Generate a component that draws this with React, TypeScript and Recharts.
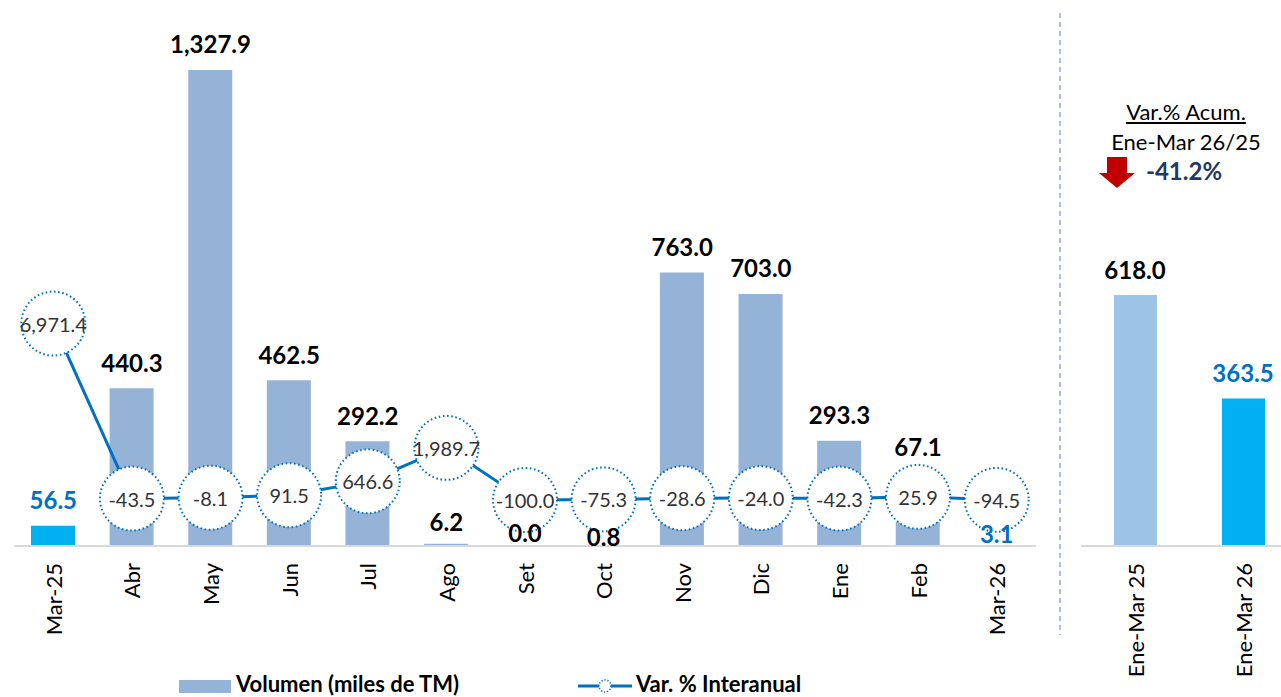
import { Bar, Cell, ComposedChart, Line, XAxis, YAxis } from "recharts";

const months = ["Mar-25", "Abr", "May", "Jun", "Jul", "Ago", "Set", "Oct", "Nov", "Dic", "Ene", "Feb", "Mar-26"];
const volume = [56.5, 440.3, 1327.9, 462.5, 292.2, 6.2, 0.0, 0.8, 763.0, 703.0, 293.3, 67.1, 3.1];
const yoyChange = [6971.4, -43.5, -8.1, 91.5, 646.6, 1989.7, -100.0, -75.3, -28.6, -24.0, -42.3, 25.9, -94.5];

const ytdPeriods = ["Ene-Mar 25", "Ene-Mar 26"];
const ytdVolume = [618.0, 363.5];
const ytdChange = -41.2;

const FONT = "Lato, 'Open Sans', sans-serif";
const BAR = "#95B3D7";
const HIGHLIGHT = "#00B0F0";
const LINE = "#0070C0";

// Excel nudged some labels to dodge the circles
const monthLabelLift: Record<number, number> = { 5: 22, 6: 14, 7: 9, 11: 75, 12: 11 };

const fmt = (v: number) =>
  v.toLocaleString("en-US", { minimumFractionDigits: 1, maximumFractionDigits: 1 });

const monthly = months.map((m, i) => ({ month: m, volume: volume[i], yoy: yoyChange[i] }));
const ytd = ytdPeriods.map((p, i) => ({ period: p, volume: ytdVolume[i] }));

function RotatedTick({ x, y, payload }: any) {
  return (
    <text
      x={x}
      y={y}
      transform={`rotate(-90, ${x}, ${y})`}
      textAnchor="end"
      dominantBaseline="central"
      fontFamily={FONT}
      fontSize={22}
      fill="#000"
    >
      {payload.value}
    </text>
  );
}

// value labels drawn as the "dots" of an invisible line on the bar axis, so they sit on top
function makeValueLabel(highlight: (i: number) => boolean, lifts: Record<number, number>) {
  return function ValueLabel({ cx, cy, value, index }: any) {
    if (cx == null || cy == null) return null;
    const lift = lifts[index] ?? 26;
    return (
      <text
        key={`lbl-${index}`}
        x={cx}
        y={cy - lift}
        textAnchor="middle"
        dominantBaseline="central"
        fontFamily={FONT}
        fontWeight={700}
        fontSize={24}
        fill={highlight(index) ? LINE : "#000"}
      >
        {fmt(value)}
      </text>
    );
  };
}

function BubbleDot({ cx, cy, value, index }: any) {
  if (cx == null || cy == null) return null;
  return (
    <g key={`dot-${index}`}>
      <circle cx={cx} cy={cy} r={32} fill="#fff" stroke={LINE} strokeWidth={2} strokeDasharray="1.6 2.6" />
      <text
        x={cx}
        y={cy}
        textAnchor="middle"
        dominantBaseline="central"
        fontFamily={FONT}
        fontSize={20}
        fill="#333"
      >
        {fmt(value)}
      </text>
    </g>
  );
}

const isEdge = (i: number) => i === 0 || i === months.length - 1;
const MonthLabel = makeValueLabel(isEdge, monthLabelLift);
const YtdLabel = makeValueLabel((i) => i === 1, {});

export default function App() {
  return (
    <div style={{ position: "absolute", left: 0, top: 0, width: 1281, height: 697, overflow: "hidden", background: "#fff" }}>
      <div style={{ position: "absolute", left: 0, top: 0 }}>
        <ComposedChart width={1050} height={697} data={monthly} margin={{ top: 10, right: 14, bottom: 51, left: 14 }}>
          <XAxis
            dataKey="month"
            interval={0}
            height={100}
            tickLine={false}
            tickSize={0}
            tickMargin={17}
            axisLine={{ stroke: "#D9D9D9", strokeWidth: 2 }}
            tick={<RotatedTick />}
          />
          <YAxis yAxisId="vol" hide domain={[0, 1495]} />
          <YAxis yAxisId="pct" hide domain={[-1944, 19539]} orientation="right" />
          <Bar yAxisId="vol" dataKey="volume" barSize={44} isAnimationActive={false}>
            {monthly.map((_, i) => (
              <Cell key={i} fill={isEdge(i) ? HIGHLIGHT : BAR} />
            ))}
          </Bar>
          <Line
            yAxisId="pct"
            dataKey="yoy"
            type="linear"
            stroke={LINE}
            strokeWidth={3}
            dot={<BubbleDot />}
            activeDot={false}
            isAnimationActive={false}
          />
          <Line
            yAxisId="vol"
            dataKey="volume"
            stroke="none"
            dot={<MonthLabel />}
            activeDot={false}
            isAnimationActive={false}
          />
        </ComposedChart>
      </div>

      <svg style={{ position: "absolute", left: 0, top: 0 }} width={1281} height={697}>
        <line x1={1060} y1={13} x2={1060} y2={635} stroke="#8FAADC" strokeWidth={1.5} strokeDasharray="5 4" />
      </svg>

      <div style={{ position: "absolute", left: 1081, top: 0 }}>
        <ComposedChart width={216} height={697} data={ytd} margin={{ top: 10, right: 0, bottom: 51, left: 0 }}>
          <XAxis
            dataKey="period"
            interval={0}
            height={100}
            tickLine={false}
            tickSize={0}
            tickMargin={17}
            axisLine={{ stroke: "#D9D9D9", strokeWidth: 2 }}
            tick={<RotatedTick />}
          />
          <YAxis hide domain={[0, 1320]} />
          <Bar dataKey="volume" barSize={43} isAnimationActive={false}>
            {ytd.map((_, i) => (
              <Cell key={i} fill={i === 0 ? "#9DC3E6" : HIGHLIGHT} />
            ))}
          </Bar>
          <Line dataKey="volume" stroke="none" dot={<YtdLabel />} activeDot={false} isAnimationActive={false} />
        </ComposedChart>
      </div>

      <div style={{ position: "absolute", left: 1086, top: 97, width: 200, textAlign: "center", fontFamily: FONT, fontSize: 22, color: "#000", lineHeight: "30px" }}>
        <div><span style={{ textDecoration: "underline" }}>Var.% Acum.</span></div>
        <div>Ene-Mar 26/25</div>
      </div>
      <svg style={{ position: "absolute", left: 1099, top: 157 }} width={36} height={32}>
        <polygon points="8,0 28,0 28,16 36,16 18,31 0,16 8,16" fill="#C00000" />
      </svg>
      <div style={{ position: "absolute", left: 1146, top: 157, fontFamily: FONT, fontSize: 24, fontWeight: 700, color: "#1F3864", lineHeight: "28px" }}>
        {`${fmt(ytdChange)}%`}
      </div>

      <div style={{ position: "absolute", left: 179, top: 680, width: 52, height: 13, background: BAR }} />
      <div style={{ position: "absolute", left: 236, top: 673, fontFamily: FONT, fontSize: 22, fontWeight: 700, lineHeight: "22px", color: "#000" }}>
        Volumen (miles de TM)
      </div>
      <svg style={{ position: "absolute", left: 578, top: 676 }} width={56} height={20}>
        <line x1={0} y1={10} x2={54} y2={10} stroke={LINE} strokeWidth={3} />
        <circle cx={27} cy={10} r={6} fill="#fff" stroke={LINE} strokeWidth={1.5} strokeDasharray="1.2 1.8" />
      </svg>
      <div style={{ position: "absolute", left: 636, top: 673, fontFamily: FONT, fontSize: 22, fontWeight: 700, lineHeight: "22px", color: "#000" }}>
        Var. % Interanual
      </div>
    </div>
  );
}
